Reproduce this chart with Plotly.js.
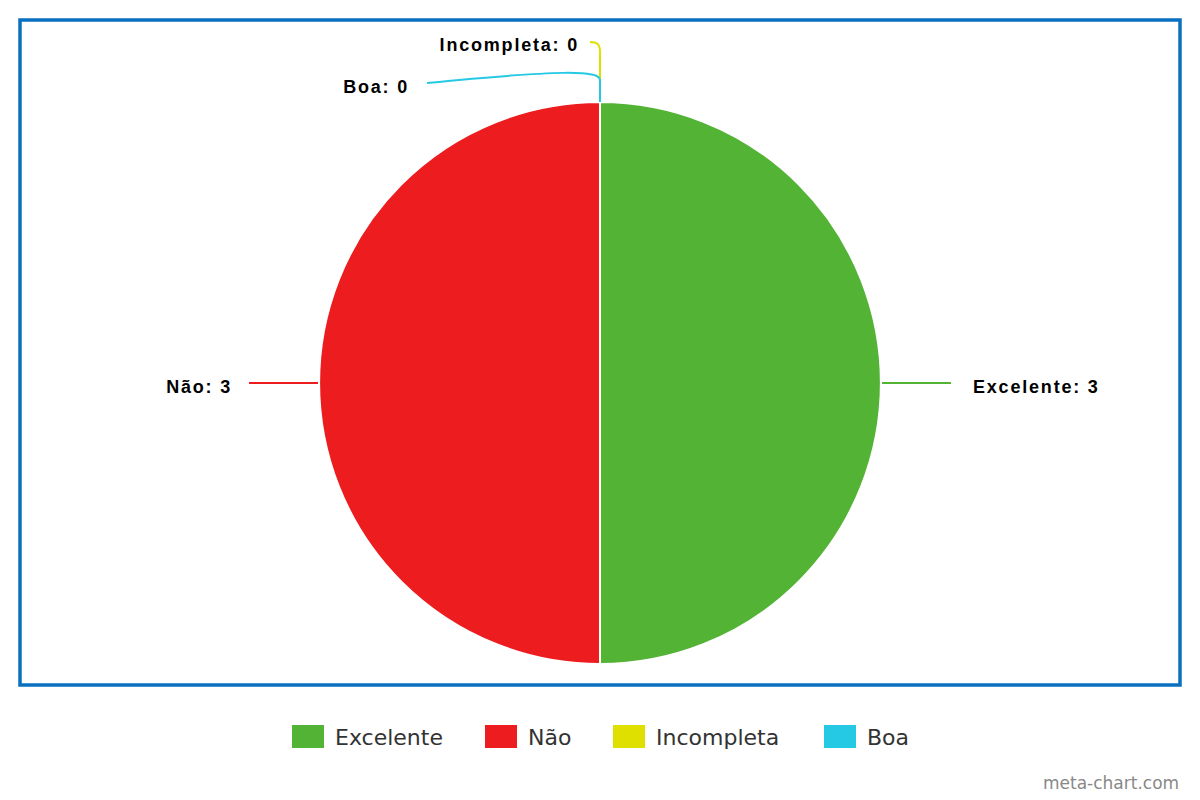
<!DOCTYPE html>
<html>
<head>
<meta charset="utf-8">
<script src="https://cdn.plot.ly/plotly-3.0.1.min.js"></script>
<style>
html,body{margin:0;padding:0;background:#fff;}
#chart{width:1200px;height:800px;}
</style>
</head>
<body>
<div id="chart"></div>
<script>
// ---- data ----
const labels = ["Excelente", "Não", "Incompleta", "Boa"];
const values = [3, 3, 0, 0];
const colors = ["#52b335", "#ed1c1f", "#dfe000", "#25c9e4"];

// ---- layout helpers (pixel -> paper) ----
const W = 1200, H = 800;
const px = x => x / W;
const py = y => 1 - y / H;
const cx = 600, cy = 383, R = 281;

const shapes = [];
const annotations = [];
const labelIdx = [];

// plot frame
shapes.push({type:"rect", xref:"paper", yref:"paper",
  x0:px(20), x1:px(1180), y0:py(20), y1:py(685),
  line:{color:"#0a70c0", width:3.5}, fillcolor:"rgba(0,0,0,0)", layer:"below"});

// leader lines and labels computed from slice angles
const total = values.reduce((a,b)=>a+b,0);
let cum = 0;
const zeroRows = {"Incompleta": {ty:45, ex:590, bendY:52, tx:581}, "Boa": {ty:87, ex:427, bendY:80, tx:411}};
labels.forEach((lab, i) => {
  const theta = (cum + values[i]/2) / total * 2 * Math.PI; // clockwise from top
  cum += values[i];
  const ex = cx + R*Math.sin(theta), ey = cy - R*Math.cos(theta);
  const txt = "<b>" + lab + ": " + values[i] + "</b>";
  if (values[i] > 0) {
    const dir = Math.sin(theta) >= 0 ? 1 : -1;
    const lx = ex + dir*70;
    shapes.push({type:"line", xref:"paper", yref:"paper",
      x0:px(ex+dir*1), y0:py(ey), x1:px(lx), y1:py(ey),
      line:{color:colors[i], width:2}});
    labelIdx.push(annotations.length);
    annotations.push({xref:"paper", yref:"paper", x:px(lx + dir*(dir>0 ? 20 : 15)), y:py(ey+4),
      xanchor: dir>0 ? "left" : "right", yanchor:"middle", showarrow:false,
      text:txt, font:{family:"Liberation Sans, Arial", size:18, color:"#000"}});
  } else {
    const row = zeroRows[lab];
    let path;
    if (lab === "Boa") {
      path = `M ${px(ex)},${py(ey)} L ${px(ex)},${py(row.bendY)} C ${px(ex)},${py(70)} ${px(560)},${py(70)} ${px(row.ex)},${py(83)}`;
    } else {
      path = `M ${px(ex)},${py(ey-22)} L ${px(ex)},${py(row.bendY)} C ${px(ex)},${py(44)} ${px(ex-3)},${py(42)} ${px(row.ex)},${py(42)}`;
    }
    shapes.push({type:"path", xref:"paper", yref:"paper", path:path,
      line:{color:colors[i], width:2}});
    labelIdx.push(annotations.length);
    annotations.push({xref:"paper", yref:"paper", x:px(row.tx), y:py(row.ty),
      xanchor:"right", yanchor:"middle", showarrow:false,
      text:txt, font:{family:"Liberation Sans, Arial", size:18, color:"#000"}});
  }
});

// custom legend built from labels/colors
const legX = [292, 485, 613, 824];
labels.forEach((lab, i) => {
  shapes.push({type:"rect", xref:"paper", yref:"paper",
    x0:px(legX[i]), x1:px(legX[i]+32), y0:py(748), y1:py(725),
    fillcolor:colors[i], line:{width:0}});
  annotations.push({xref:"paper", yref:"paper", x:px(legX[i]+41), y:py(737),
    xanchor:"left", yanchor:"middle", showarrow:false, text:lab,
    font:{family:"DejaVu Sans", size:22, color:"#333"}});
});

// watermark
annotations.push({xref:"paper", yref:"paper", x:px(1181), y:py(783),
  xanchor:"right", yanchor:"middle", showarrow:false, text:"meta-chart.com",
  font:{family:"DejaVu Sans", size:17, color:"#888"}});

const trace = {
  type:"pie",
  labels: labels,
  values: values,
  sort:false,
  direction:"clockwise",
  rotation:0,
  textinfo:"none",
  hoverinfo:"label+value",
  marker:{colors:colors, line:{color:"#fff", width:2}},
  domain:{x:[px(cx-R), px(cx+R)], y:[py(cy+R), py(cy-R)]},
  showlegend:false
};

const layout = {
  width:W, height:H,
  margin:{l:0, r:0, t:0, b:0},
  paper_bgcolor:"#fff",
  showlegend:false,
  shapes:shapes,
  annotations:annotations
};

Plotly.newPlot("chart", [trace], layout, {displayModeBar:false, staticPlot:true}).then(gd => {
  // widen the slice labels a little, keeping their anchored edge in place
  const groups = gd.querySelectorAll(".annotation");
  labelIdx.forEach(k => {
    const g = groups[k];
    if (!g) return;
    const t = g.querySelector("text");
    if (!t) return;
    const before = t.getBBox();
    t.style.letterSpacing = "1.8px";
    const after = t.getBBox();
    const half = (after.width - before.width) / 2;
    const a = annotations[k];
    const cur = parseFloat(t.getAttribute("x"));
    t.setAttribute("x", a.xanchor === "right" ? cur - half : cur + half);
  });
});
</script>
</body>
</html>
